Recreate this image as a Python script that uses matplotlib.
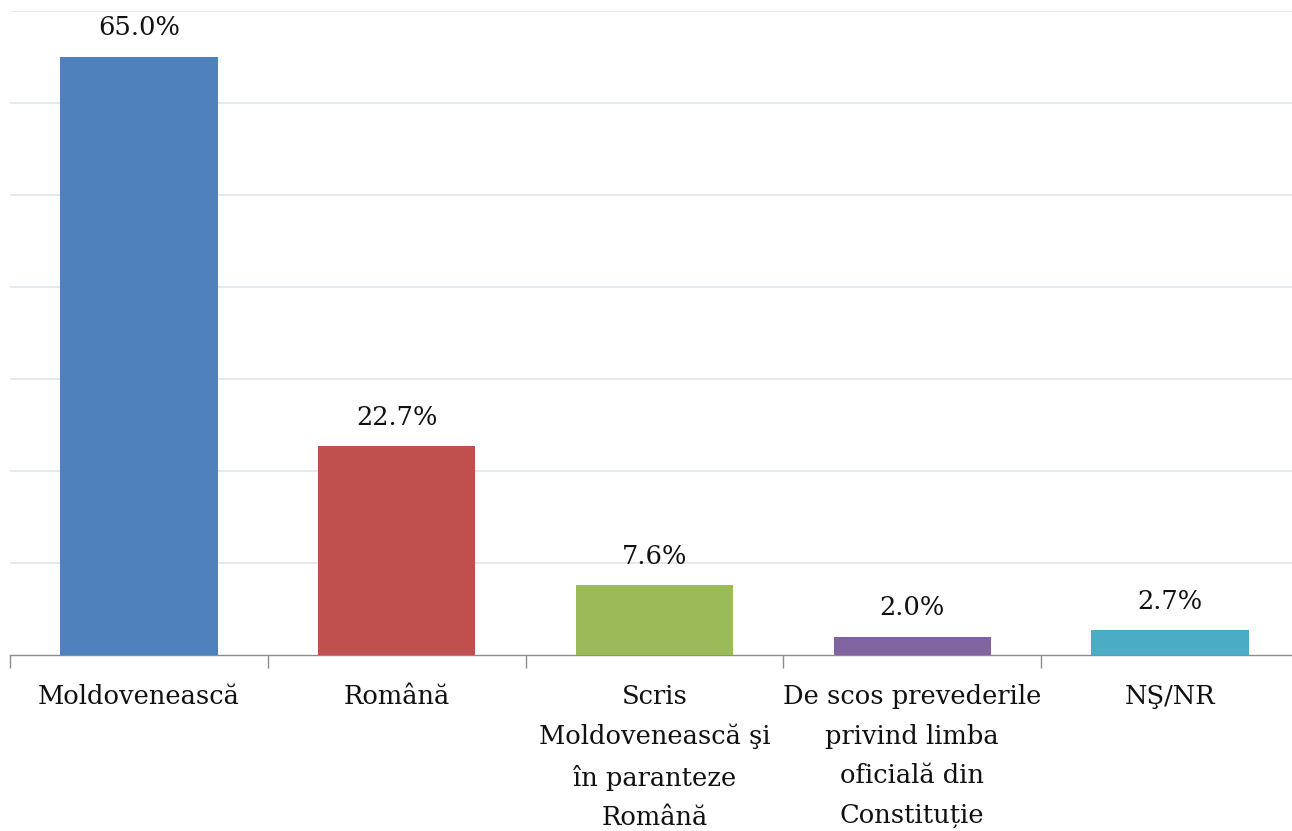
import matplotlib

matplotlib.use("Agg")
import matplotlib.pyplot as plt
import numpy as np

# survey answers: official language name in the Constitution
categories = [
    "Moldovenească",
    "Română",
    "Scris\nMoldovenească şi\nîn paranteze\nRomână",
    "De scos prevederile\nprivind limba\noficială din\nConstituție",
    "NŞ/NR",
]
shares = [65.0, 22.7, 7.6, 2.0, 2.7]
colors = ["#4F81BD", "#C0504D", "#9BBB59", "#8064A2", "#4BACC6"]

plt.rcParams["font.family"] = ["DejaVu Serif", "DejaVu Sans"]

W, H = 1292, 831
fig = plt.figure(figsize=(W / 100, H / 100), dpi=100)
# axes spans slightly past the right edge, as in the source
ax = fig.add_axes([10 / W, 1 - 655 / H, 1289 / W, 644 / H])

x = np.arange(len(categories))
ax.bar(x, shares, width=0.61, color=colors, zorder=3)

for xi, v in zip(x, shares):
    ax.annotate(f"{v:.1f}%", (xi, v), xytext=(0, 15.5), textcoords="offset points",
                ha="center", va="baseline", fontsize=18.5, color="#111111")

ax.set_xlim(-0.5, len(categories) - 0.5)
ax.set_ylim(0, 70)
ax.set_yticks(np.arange(10, 71, 10))
ax.yaxis.grid(True, color="#DCE3EE", lw=1.1, zorder=0)
ax.tick_params(axis="y", left=False, labelleft=False)

ax.set_xticks(x)
ax.set_xticklabels(categories, fontsize=18.5, linespacing=1.72, color="#111111")
ax.tick_params(axis="x", which="major", length=0, pad=21)
ax.set_xticks(np.arange(-0.5, len(categories), 1.0), minor=True)
ax.tick_params(axis="x", which="minor", length=9, color="#8C8C8C", width=1)

for side in ("left", "right", "top"):
    ax.spines[side].set_visible(False)
ax.spines["bottom"].set_color("#8C8C8C")
ax.spines["bottom"].set_linewidth(1)

fig.savefig("out.png", dpi=100)
